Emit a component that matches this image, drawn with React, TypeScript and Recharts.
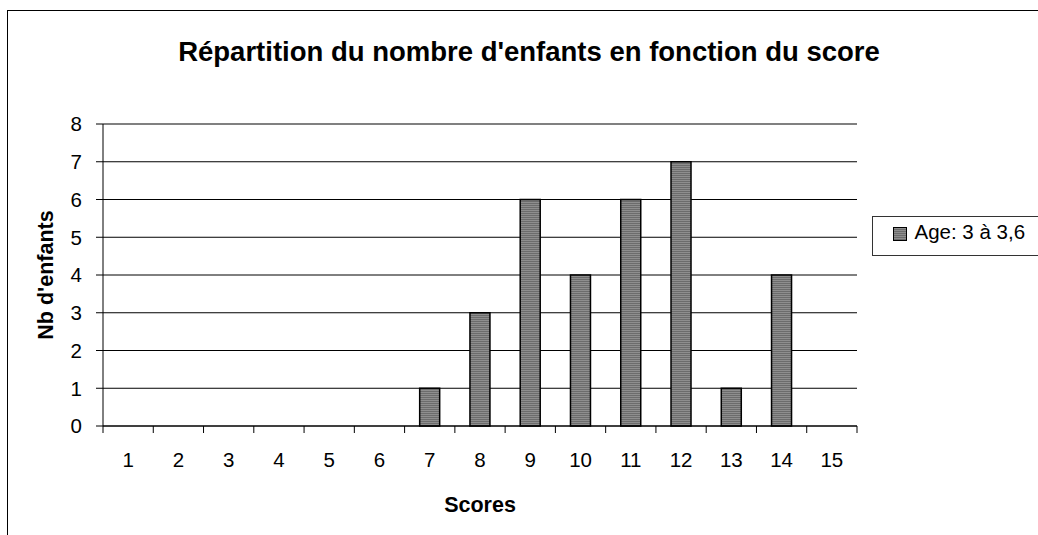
import { BarChart, Bar, XAxis, YAxis, CartesianGrid, ReferenceLine } from "recharts";

const scores = ["1", "2", "3", "4", "5", "6", "7", "8", "9", "10", "11", "12", "13", "14", "15"];
const counts = [0, 0, 0, 0, 0, 0, 1, 3, 6, 4, 6, 7, 1, 4, 0];
const yTicks = [0, 1, 2, 3, 4, 5, 6, 7, 8];
const seriesName = "Age: 3 à 3,6";
const title = "Répartition du nombre d'enfants en fonction du score";

const data = scores.map((s, i) => ({ score: s, count: counts[i] }));

const FONT = "'Liberation Sans', Arial, sans-serif";
const TICK_SIZE = 20.5;
const LABEL_SIZE = 21.5;

// category tick: label centered, tick mark on the left band edge (Excel style)
function ScoreTick(props: any) {
    const { x, y, payload, index, visibleTicksCount } = props;
    const half = payload?.offset ?? 754 / 15 / 2;
    const last = index === visibleTicksCount - 1;
    return (
        <g>
            <line x1={x - half} y1={y} x2={x - half} y2={y + 7} stroke="#000" />
            {last && <line x1={x + half} y1={y} x2={x + half} y2={y + 7} stroke="#000" />}
            <text x={x} y={y + 41} textAnchor="middle" fontSize={TICK_SIZE} fontFamily={FONT} fill="#000">
                {payload.value}
            </text>
        </g>
    );
}

export default function App() {
    return (
        <div style={{ position: "fixed", left: 0, top: 0, width: 1038, height: 535, background: "#fff", overflow: "hidden" }}>
            <svg width={0} height={0} style={{ position: "absolute" }}>
                <defs>
                    <pattern id="stripes" width={4} height={2} patternUnits="userSpaceOnUse">
                        <rect width={4} height={2} fill="#8e8e8e" />
                        <rect y={1} width={4} height={1} fill="#6c6c6c" />
                    </pattern>
                </defs>
            </svg>

            {/* outer chart border */}
            <div style={{ position: "absolute", left: 7, top: 10, width: 1100, height: 600, border: "1.5px solid #000" }} />

            <div
                style={{
                    position: "absolute",
                    left: 0,
                    top: 36,
                    width: 1058,
                    textAlign: "center",
                    fontFamily: FONT,
                    fontWeight: "bold",
                    fontSize: 27.5,
                    color: "#000",
                    whiteSpace: "nowrap",
                }}
            >
                {title}
            </div>

            <div style={{ position: "absolute", left: 0, top: 0 }}>
                <BarChart
                    width={1038}
                    height={535}
                    data={data}
                    margin={{ top: 124, right: 181, bottom: 0, left: 0 }}
                    barCategoryGap="30%"
                >
                    <CartesianGrid vertical={false} stroke="#000" strokeOpacity={1} />
                    <XAxis
                        dataKey="score"
                        height={109}
                        axisLine={{ stroke: "#000" }}
                        tickLine={false}
                        tickSize={0}
                        tickMargin={0}
                        tick={<ScoreTick />}
                        interval={0}
                        label={{
                            value: "Scores",
                            position: "insideBottom",
                            offset: 23,
                            style: { fontFamily: FONT, fontWeight: "bold", fontSize: LABEL_SIZE, fill: "#000" },
                        }}
                    />
                    <YAxis
                        width={103}
                        domain={[0, 8]}
                        ticks={yTicks}
                        interval={0}
                        axisLine={{ stroke: "#000" }}
                        tickLine={{ stroke: "#000" }}
                        tickSize={7}
                        tickMargin={14}
                        tick={{ fontFamily: FONT, fontSize: TICK_SIZE, fill: "#000" }}
                        label={{
                            value: "Nb d'enfants",
                            angle: -90,
                            position: "insideLeft",
                            offset: 45,
                            style: { textAnchor: "middle", fontFamily: FONT, fontWeight: "bold", fontSize: LABEL_SIZE, fill: "#000" },
                        }}
                    />
                    <YAxis
                        yAxisId="border"
                        orientation="right"
                        width={0}
                        tick={false}
                        tickLine={false}
                        axisLine={{ stroke: "#808080", strokeWidth: 2 }}
                    />
                    <ReferenceLine y={8} stroke="#808080" strokeWidth={2} />
                    <Bar
                        dataKey="count"
                        name={seriesName}
                        fill="url(#stripes)"
                        stroke="#000"
                        strokeWidth={1.5}
                        isAnimationActive={false}
                    />
                </BarChart>
            </div>

            {/* legend */}
            <div
                style={{
                    position: "absolute",
                    left: 872,
                    top: 216,
                    width: 200,
                    height: 40,
                    border: "1.5px solid #333",
                    boxSizing: "border-box",
                    fontFamily: FONT,
                    fontSize: TICK_SIZE,
                    color: "#000",
                }}
            >
                <span
                    style={{
                        position: "absolute",
                        left: 19.5,
                        top: 9.5,
                        width: 12,
                        height: 12,
                        border: "1.5px solid #000",
                        background: "repeating-linear-gradient(#8e8e8e 0px, #8e8e8e 1px, #6c6c6c 1px, #6c6c6c 2px)",
                    }}
                />
                <span style={{ position: "absolute", left: 41.5, top: 2.5, whiteSpace: "nowrap" }}>{seriesName}</span>
            </div>
        </div>
    );
}
